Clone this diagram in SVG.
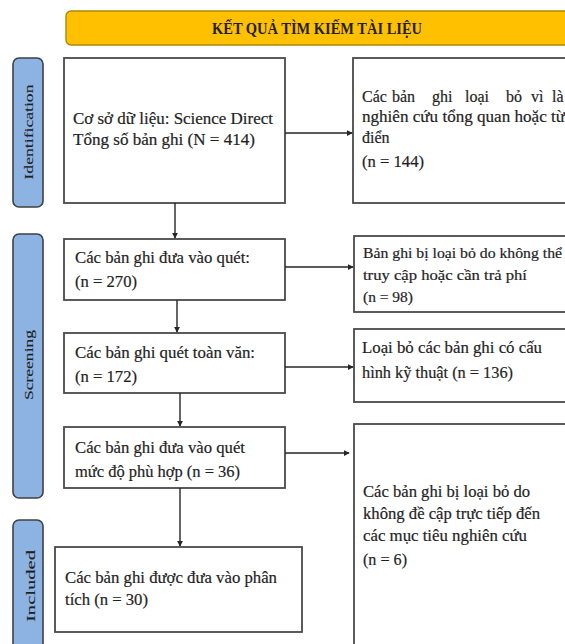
<svg xmlns="http://www.w3.org/2000/svg" width="565" height="644" viewBox="0 0 565 644">
<style>
.box{fill:#fff;stroke:#4a4a4a;stroke-width:1.8}
.side{fill:#8db3e2;stroke:#404040;stroke-width:1.6}
.t{font-family:"Liberation Serif","Times New Roman",serif;font-size:16px;fill:#1f1f1f;stroke:#1f1f1f;stroke-width:0.2}
.ts{font-family:"Liberation Serif","Times New Roman",serif;font-size:14.5px;fill:#1f1f1f;stroke:#1f1f1f;stroke-width:0.2}
.lab{font-family:"Liberation Serif","Times New Roman",serif;font-size:13px;fill:#1f1f1f;stroke:#1f1f1f;stroke-width:0.1;text-anchor:middle}
.conn{stroke:#262626;stroke-width:1.4;fill:none}
</style>
<defs>
<marker id="arr" viewBox="0 0 8 8" refX="7" refY="4" markerWidth="6" markerHeight="6" orient="auto" markerUnits="userSpaceOnUse">
<path d="M0,0 L8,4 L0,8 z" fill="#262626"/>
</marker>
</defs>
<g id="banner">
<rect x="66" y="11" width="510" height="34" rx="5" fill="#ffc000" stroke="#b08800" stroke-width="1.4"/>
<text x="317" y="34" class="t" font-size="15" text-anchor="middle" textLength="210" lengthAdjust="spacingAndGlyphs" style="font-weight:bold;stroke-width:0">KẾT QUẢ TÌM KIẾM TÀI LIỆU</text>
</g>
<g id="lab-identification">
<rect x="13" y="58" width="30" height="149" rx="6" class="side"/>
<text class="lab" transform="translate(33,132) rotate(-90)" textLength="95" lengthAdjust="spacingAndGlyphs">Identification</text>
</g>
<g id="lab-screening">
<rect x="13" y="234" width="30" height="264" rx="6" class="side"/>
<text class="lab" transform="translate(33,365) rotate(-90)" textLength="70" lengthAdjust="spacingAndGlyphs">Screening</text>
</g>
<g id="lab-included">
<rect x="13" y="520" width="30" height="140" rx="6" class="side"/>
<text class="lab" font-size="15" transform="translate(35,586) rotate(-90)" textLength="72" lengthAdjust="spacingAndGlyphs">Included</text>
</g>
<g id="n1">
<rect x="64" y="58" width="221" height="145" class="box"/>
<text x="73" y="124" class="t" textLength="200" lengthAdjust="spacingAndGlyphs">Cơ sở dữ liệu: Science Direct</text>
<text x="73" y="145" class="t" textLength="182" lengthAdjust="spacingAndGlyphs">Tổng số bản ghi (N = 414)</text>
</g>
<g id="r1">
<rect x="353" y="58" width="220" height="145" class="box"/>
<text y="102" class="t"><tspan x="362">Các</tspan><tspan x="392">bản</tspan><tspan x="432">ghi</tspan><tspan x="465">loại</tspan><tspan x="506">bỏ</tspan><tspan x="531">vì</tspan><tspan x="552">là</tspan></text>
<text x="362" y="122" class="t" textLength="203" lengthAdjust="spacingAndGlyphs">nghiên cứu tổng quan hoặc từ</text>
<text x="362" y="143" class="t">điển</text>
<text x="362" y="167" class="t" textLength="62" lengthAdjust="spacingAndGlyphs">(n = 144)</text>
</g>
<g id="n2">
<rect x="64" y="239" width="221" height="61" class="box"/>
<text x="75" y="263" class="t" textLength="175" lengthAdjust="spacingAndGlyphs">Các bản ghi đưa vào quét:</text>
<text x="75" y="287" class="t" textLength="62" lengthAdjust="spacingAndGlyphs">(n = 270)</text>
</g>
<g id="r2">
<rect x="354" y="236" width="220" height="76" class="box"/>
<text x="363" y="258" class="ts" textLength="199" lengthAdjust="spacingAndGlyphs">Bản ghi bị loại bỏ do không thể</text>
<text x="363" y="280" class="ts" textLength="164" lengthAdjust="spacingAndGlyphs">truy cập hoặc cần trả phí</text>
<text x="363" y="302" class="ts" textLength="50" lengthAdjust="spacingAndGlyphs">(n = 98)</text>
</g>
<g id="n3">
<rect x="64" y="333" width="221" height="60" class="box"/>
<text x="75" y="358" class="t" textLength="180" lengthAdjust="spacingAndGlyphs">Các bản ghi quét toàn văn:</text>
<text x="75" y="382" class="t" textLength="62" lengthAdjust="spacingAndGlyphs">(n = 172)</text>
</g>
<g id="r3">
<rect x="354" y="329" width="220" height="73" class="box"/>
<text x="362" y="353" class="t" textLength="180" lengthAdjust="spacingAndGlyphs">Loại bỏ các bản ghi có cấu</text>
<text x="362" y="378" class="t" textLength="151" lengthAdjust="spacingAndGlyphs">hình kỹ thuật (n = 136)</text>
</g>
<g id="n4">
<rect x="64" y="427" width="221" height="61" class="box"/>
<text x="75" y="453" class="t" textLength="170" lengthAdjust="spacingAndGlyphs">Các bản ghi đưa vào quét</text>
<text x="75" y="477" class="t" textLength="165" lengthAdjust="spacingAndGlyphs">mức độ phù hợp (n = 36)</text>
</g>
<g id="r4">
<rect x="354" y="424" width="220" height="230" class="box"/>
<text x="363" y="497" class="t" textLength="167" lengthAdjust="spacingAndGlyphs">Các bản ghi bị loại bỏ do</text>
<text x="363" y="519" class="t" textLength="177" lengthAdjust="spacingAndGlyphs">không đề cập trực tiếp đến</text>
<text x="363" y="541" class="t" textLength="164" lengthAdjust="spacingAndGlyphs">các mục tiêu nghiên cứu</text>
<text x="363" y="565" class="t" textLength="44" lengthAdjust="spacingAndGlyphs">(n = 6)</text>
</g>
<g id="n5">
<rect x="55" y="547" width="247" height="85" class="box"/>
<text x="65" y="583" class="t" textLength="212" lengthAdjust="spacingAndGlyphs">Các bản ghi được đưa vào phân</text>
<text x="65" y="605" class="t" textLength="83" lengthAdjust="spacingAndGlyphs">tích (n = 30)</text>
</g>
<g id="connectors">
<line x1="285" y1="133" x2="352" y2="133" class="conn" marker-end="url(#arr)"/>
<line x1="175" y1="203" x2="175" y2="238" class="conn" marker-end="url(#arr)"/>
<line x1="285" y1="267" x2="353" y2="267" class="conn" marker-end="url(#arr)"/>
<line x1="177" y1="300" x2="177" y2="332" class="conn" marker-end="url(#arr)"/>
<line x1="285" y1="367" x2="353" y2="367" class="conn" marker-end="url(#arr)"/>
<line x1="180" y1="393" x2="180" y2="426" class="conn" marker-end="url(#arr)"/>
<line x1="285" y1="453" x2="349" y2="453" class="conn" marker-end="url(#arr)"/>
<line x1="180" y1="488" x2="180" y2="546" class="conn" marker-end="url(#arr)"/>
</g>
</svg>
